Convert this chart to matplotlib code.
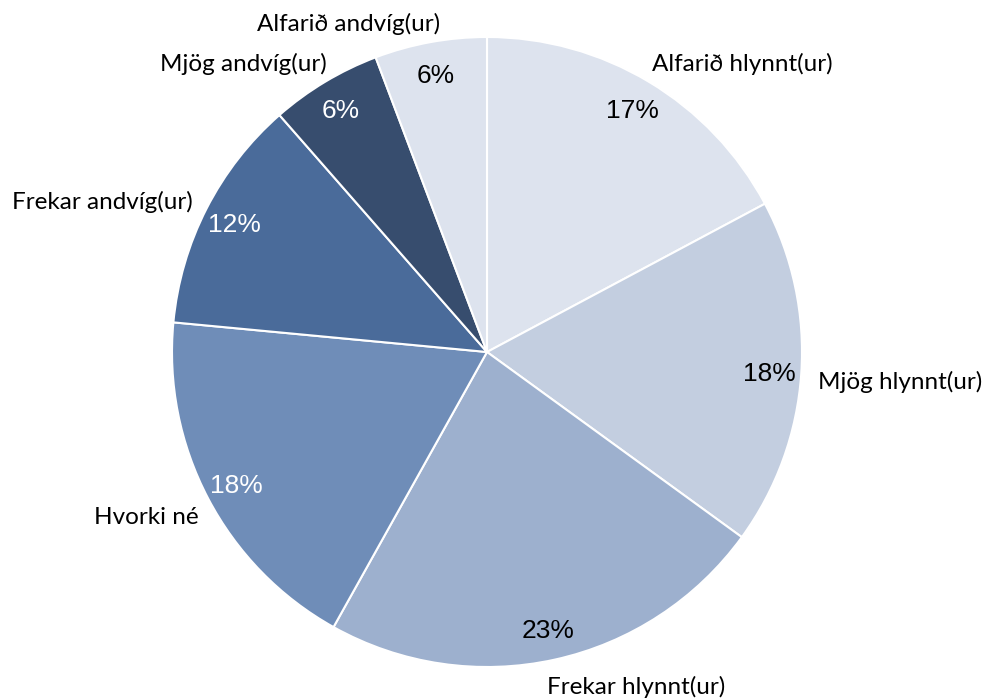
import matplotlib
matplotlib.use("Agg")
import matplotlib.pyplot as plt

categories = ["Alfarið hlynnt(ur)", "Mjög hlynnt(ur)", "Frekar hlynnt(ur)", "Hvorki né",
              "Frekar andvíg(ur)", "Mjög andvíg(ur)", "Alfarið andvíg(ur)"]
values = [17.2, 17.8, 23.1, 18.4, 12.05, 5.7, 5.75]
pct_labels = ["17%", "18%", "23%", "18%", "12%", "6%", "6%"]
colors = ["#DDE3EE", "#C3CEE0", "#9DB0CE", "#6F8DB8", "#4A6B9A", "#374D6E", "#DDE3EE"]
pct_colors = ["black", "black", "black", "white", "white", "white", "black"]
# category label positions (layout only), in pie-radius units
label_pos = [(0.81, 0.921), (1.311, -0.089), (0.473, -1.057), (-1.083, -0.518),
             (-1.222, 0.482), (-0.775, 0.921), (-0.438, 1.048)]

fig = plt.figure(figsize=(9.85, 6.99), dpi=100)
ax = fig.add_axes([0, 0, 1, 1])
wedges, texts, autotexts = ax.pie(values, startangle=90, counterclock=False, colors=colors,
                                  autopct="%1.0f%%", pctdistance=0.9, radius=1.0,
                                  wedgeprops=dict(edgecolor="white", linewidth=1.5))
for t, lab, c in zip(autotexts, pct_labels, pct_colors):
    t.set_text(lab)
    t.set_color(c)
    t.set_fontsize(19)
    t.set_fontfamily("Liberation Sans")
    t.set_va("center_baseline")

for cat, (x, y) in zip(categories, label_pos):
    ax.text(x, y, cat, ha="center", va="center_baseline", fontsize=17.5, family="Lato", color="black")

ax.set_xlim(-487 / 315, (985 - 487) / 315)
ax.set_ylim((352 - 699) / 315, 352 / 315)
ax.set_aspect("equal", adjustable="datalim")
ax.axis("off")
fig.savefig("out.png", dpi=100)
